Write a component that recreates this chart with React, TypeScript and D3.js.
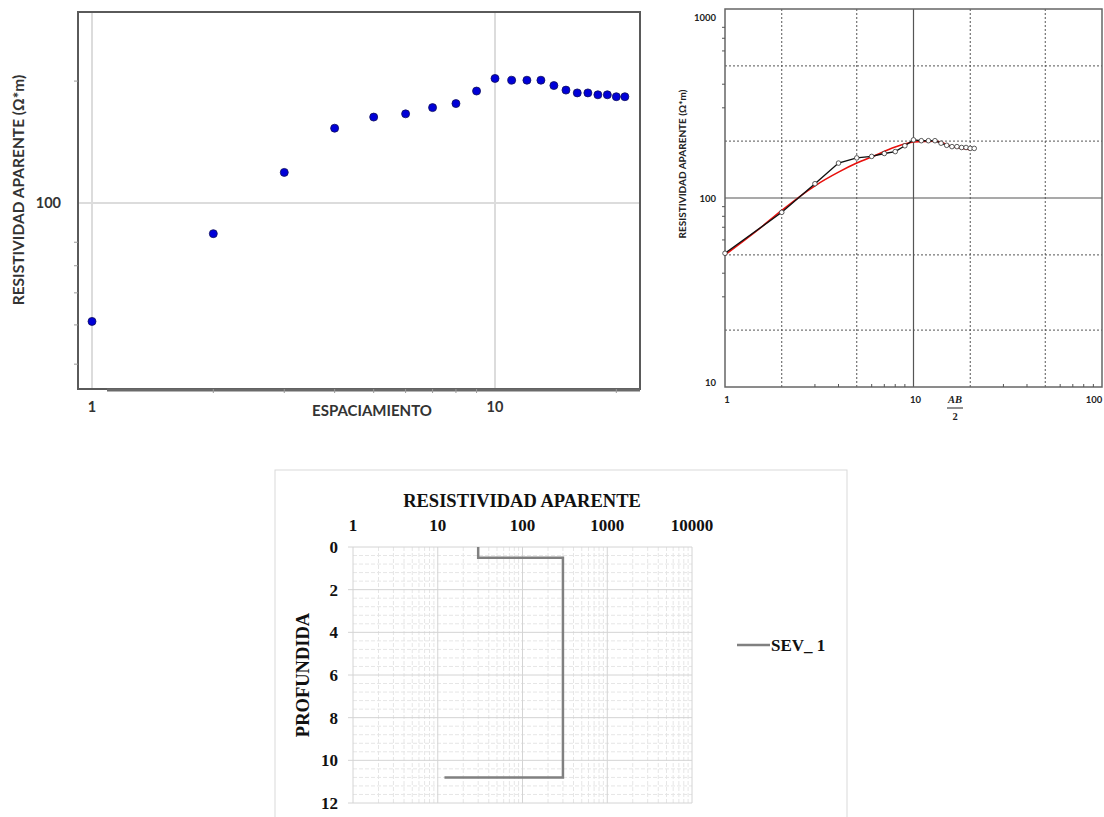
import React from 'react'
import * as d3 from 'd3'

// field data: AB/2 spacing (m) vs apparent resistivity (ohm*m)
const spacing = [1, 2, 3, 4, 5, 6, 7, 8, 9, 10, 11, 12, 13, 14, 15, 16, 17, 18, 19, 20, 21]
const rhoApparent = [51, 84, 119, 153, 163, 166, 172, 176, 189, 203, 201, 201, 201, 195, 190, 187, 187, 185, 185, 183, 183]

// fitted model curve (red)
const fitSpacing = [1, 1.5, 2, 3, 4, 5, 6, 8, 10, 13, 16, 20]
const fitRho = [50, 68, 86, 116, 137, 153, 165, 186, 198, 200, 188, 180]

// layered model (SEV_ 1)
const layerRho = [30, 300, 12]
const layerTop = [0, 0.5, 10.8]

const chart1YTicks = [40, 50, 60, 70, 80, 200]
const chart1XTicks = [2, 3, 4, 5, 6, 7, 8, 9, 20]
const chart2Dotted = [2, 5, 20, 50]
const chart2DottedY = [20, 50, 200, 500]
const chart2Minor = [3, 4, 6, 7, 8, 9, 30, 40, 60, 70, 80, 90]
const chart2MinorY = [30, 40, 60, 70, 80, 90, 300, 400, 600, 700, 800]
const chart3XLabels = [1, 10, 100, 1000, 10000]
const chart3YLabels = [0, 2, 4, 6, 8, 10, 12]

const sans = 'Lato, "Open Sans", sans-serif'
const serif = '"Liberation Serif", "DejaVu Serif", serif'

function ChartOne() {
  const x = d3.scaleLog().domain([1, 10]).range([92, 495])
  const y = d3.scaleLog().domain([10, 100]).range([608, 203])
  const left = 78, right = 640, top = 12, bottom = 389
  return (
    <g>
      <line x1={x(1)} x2={x(1)} y1={top} y2={bottom} stroke="#dcdcdc" strokeWidth={2} />
      <line x1={x(10)} x2={x(10)} y1={top} y2={bottom} stroke="#dcdcdc" strokeWidth={2} />
      <line x1={left} x2={right} y1={y(100)} y2={y(100)} stroke="#dcdcdc" strokeWidth={2} />
      <rect x={left} y={top} width={right - left} height={bottom - top} fill="none" stroke="#5a5a5a" strokeWidth={2} />
      <line x1={107} x2={right} y1={bottom + 1} y2={bottom + 1} stroke="#6a6a6a" strokeWidth={3} />
      {chart1YTicks.map(v => (
        <line key={v} x1={left - 4} x2={left} y1={y(v)} y2={y(v)} stroke="#999" strokeWidth={1} />
      ))}
      {chart1XTicks.map(v => (
        <line key={v} x1={x(v)} x2={x(v)} y1={bottom} y2={bottom + 4} stroke="#999" strokeWidth={1} />
      ))}
      {spacing.map((s, i) => (
        <circle key={s} cx={x(s)} cy={y(rhoApparent[i])} r={4} fill="#0000d8" stroke="#10105a" strokeWidth={0.8} />
      ))}
      <text x={left - 17} y={y(100) + 5} textAnchor="end" fontFamily={sans} fontWeight="bold" fontSize={14.5} fill="#333">100</text>
      <text x={x(1)} y={412} textAnchor="middle" fontFamily={sans} fontWeight="bold" fontSize={14.5} fill="#333">1</text>
      <text x={x(10)} y={412} textAnchor="middle" fontFamily={sans} fontWeight="bold" fontSize={14.5} fill="#333">10</text>
      <text x={372} y={416} textAnchor="middle" fontFamily={sans} fontWeight="bold" fontSize={15} fill="#333">ESPACIAMIENTO</text>
      <text transform="translate(24,190) rotate(-90)" textAnchor="middle" fontFamily={sans} fontWeight="bold" fontSize={15.5} fill="#333">RESISTIVIDAD APARENTE (Ω*m)</text>
    </g>
  )
}

function ChartTwo() {
  const x = d3.scaleLog().domain([1, 100]).range([725, 1102])
  const y = d3.scaleLog().domain([10, 1000]).range([387, 9])
  const left = 725, right = 1102, top = 9, bottom = 387
  const dataLine = d3.line<number>().x(d => x(spacing[d])).y(d => y(rhoApparent[d]))
  const fitLine = d3.line<number>().x(d => x(fitSpacing[d])).y(d => y(fitRho[d])).curve(d3.curveMonotoneX)
  return (
    <g>
      {chart2Dotted.map(v => (
        <line key={v} x1={x(v)} x2={x(v)} y1={top} y2={bottom} stroke="#555" strokeWidth={1} strokeDasharray="2,2" />
      ))}
      {chart2DottedY.map(v => (
        <line key={v} x1={left} x2={right} y1={y(v)} y2={y(v)} stroke="#555" strokeWidth={1} strokeDasharray="2,2" />
      ))}
      <line x1={x(10)} x2={x(10)} y1={top} y2={bottom} stroke="#555" strokeWidth={1.2} />
      <line x1={left} x2={right} y1={y(100)} y2={y(100)} stroke="#555" strokeWidth={1.2} />
      <rect x={left} y={top} width={right - left} height={bottom - top} fill="none" stroke="#666" strokeWidth={1.5} />
      {chart2Minor.map(v => (
        <line key={v} x1={x(v)} x2={x(v)} y1={bottom} y2={bottom - 3} stroke="#555" strokeWidth={1} />
      ))}
      {chart2MinorY.map(v => (
        <line key={v} x1={left - 3} x2={left} y1={y(v)} y2={y(v)} stroke="#555" strokeWidth={1} />
      ))}
      <path d={fitLine(fitSpacing.map((_, i) => i)) || ''} fill="none" stroke="#e8100c" strokeWidth={1.6} />
      <path d={dataLine(spacing.map((_, i) => i)) || ''} fill="none" stroke="#111" strokeWidth={1.4} />
      {spacing.map((s, i) => (
        <circle key={s} cx={x(s)} cy={y(rhoApparent[i])} r={2.3} fill="#fff" stroke="#333" strokeWidth={0.8} />
      ))}
      {[1000, 100, 10].map(v => (
        <text key={v} x={left - 9} y={v === 10 ? 386 : y(v) + (v === 1000 ? 12 : 4)} textAnchor="end" fontFamily={sans} fontWeight="bold" fontSize={9.5} fill="#222">{v}</text>
      ))}
      {[1, 10, 100].map(v => (
        <text key={v} x={x(v) + (v === 100 ? -8 : 2)} y={403} textAnchor="middle" fontFamily={sans} fontWeight="bold" fontSize={9.5} fill="#222">{v}</text>
      ))}
      <text x={955} y={403} textAnchor="middle" fontFamily={serif} fontStyle="italic" fontWeight="bold" fontSize={10.5} fill="#222">AB</text>
      <line x1={947} x2={963} y1={408} y2={408} stroke="#222" strokeWidth={1} />
      <text x={955} y={420} textAnchor="middle" fontFamily={serif} fontWeight="bold" fontSize={10.5} fill="#222">2</text>
      <text transform="translate(686,164) rotate(-90)" textAnchor="middle" fontFamily={sans} fontWeight="bold" fontSize={10} fill="#222">RESISTIVIDAD APARENTE (Ω*m)</text>
    </g>
  )
}

function ChartThree() {
  const x = d3.scaleLog().domain([1, 10000]).range([353, 692])
  const y = d3.scaleLinear().domain([0, 12]).range([547, 803])
  const minorX: number[] = []
  for (let p = 1; p < 10000; p *= 10) for (let k = 2; k <= 9; k++) minorX.push(k * p)
  const minorY = d3.range(0, 12.01, 0.4).filter(v => Math.abs(v / 2 - Math.round(v / 2)) > 0.01)
  const pts: [number, number][] = []
  layerRho.forEach((r, i) => {
    pts.push([r, layerTop[i]])
    if (i + 1 < layerRho.length) pts.push([r, layerTop[i + 1]])
  })
  const line = d3.line<[number, number]>().x(d => x(d[0])).y(d => y(d[1]))
  return (
    <g>
      <rect x={275} y={470} width={572} height={360} fill="#fff" stroke="#d9d9d9" strokeWidth={1} />
      {minorX.map(v => (
        <line key={v} x1={x(v)} x2={x(v)} y1={y(0)} y2={y(12)} stroke="#e6e6e6" strokeWidth={1} strokeDasharray="4,2" />
      ))}
      {minorY.map(v => (
        <line key={v} x1={x(1)} x2={x(10000)} y1={y(v)} y2={y(v)} stroke="#e6e6e6" strokeWidth={1} strokeDasharray="4,2" />
      ))}
      {chart3XLabels.map(v => (
        <line key={v} x1={x(v)} x2={x(v)} y1={y(0)} y2={y(12)} stroke="#d4d4d4" strokeWidth={1} />
      ))}
      {chart3YLabels.map(v => (
        <line key={v} x1={x(1) - 5} x2={x(10000)} y1={y(v)} y2={y(v)} stroke="#d4d4d4" strokeWidth={1} />
      ))}
      <path d={line(pts) || ''} fill="none" stroke="#808080" strokeWidth={2.5} />
      {chart3XLabels.map(v => (
        <text key={v} x={x(v)} y={531} textAnchor="middle" fontFamily={serif} fontWeight="bold" fontSize={17} fill="#111">{v}</text>
      ))}
      {chart3YLabels.map(v => (
        <text key={v} x={338} y={y(v) + 6} textAnchor="end" fontFamily={serif} fontWeight="bold" fontSize={17} fill="#111">{v}</text>
      ))}
      <text x={522} y={507} textAnchor="middle" fontFamily={serif} fontWeight="bold" fontSize={18.5} fill="#111">RESISTIVIDAD APARENTE</text>
      <text transform="translate(309,675) rotate(-90)" textAnchor="middle" fontFamily={serif} fontWeight="bold" fontSize={18.5} fill="#111">PROFUNDIDA</text>
      <line x1={737} x2={770} y1={645} y2={645} stroke="#808080" strokeWidth={2.5} />
      <text x={771} y={651} fontFamily={serif} fontWeight="bold" fontSize={17} fill="#111">SEV_ 1</text>
    </g>
  )
}

export default function App() {
  return (
    <svg width={1104} height={817} style={{ position: 'absolute', left: 0, top: 0, background: '#fff' }}>
      <rect width={1104} height={817} fill="#fff" />
      <ChartOne />
      <ChartTwo />
      <ChartThree />
    </svg>
  )
}
